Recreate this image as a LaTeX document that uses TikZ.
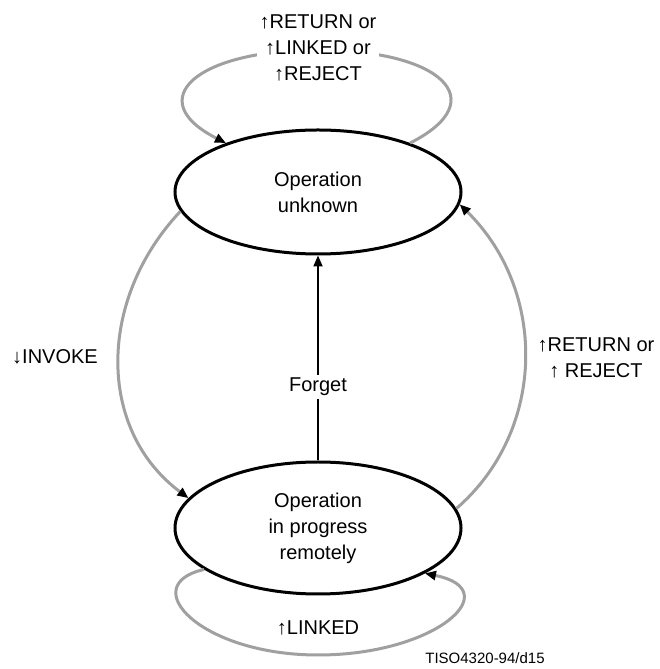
\documentclass[tikz,border=0pt]{standalone}
\usepackage{fontspec}
\setmainfont{Liberation Sans}
\usetikzlibrary{shapes.geometric,arrows.meta}
\definecolor{loopgray}{RGB}{160,160,160}
\begin{document}
\begin{tikzpicture}[
    x=1pt, y=1pt,
    every node/.style={
        align=center,
        font=\fontsize{20}{26}\selectfont
    },
    state/.style={draw, ellipse, line width=3pt, inner sep=0pt},
    trans/.style={draw=loopgray, line width=3pt, -{Triangle[color=black,length=11pt,width=9pt]}},
    note/.style={fill=white, inner sep=3pt}
]
\useasboundingbox (0,0) rectangle (659,669);
% states
\node[state, minimum width=286pt, minimum height=124pt] (unknown) at (318,477) {Operation\\unknown};
\node[state, minimum width=286pt, minimum height=132pt] (remote) at (318,141) {Operation\\in progress\\remotely};
% forget
\draw[line width=2pt, -{Triangle[length=11pt,width=9pt]}] (remote.north) -- (unknown.south)
    node[pos=0.36, note] (forget) {Forget};
% invoke
\draw[trans] (unknown.188) .. controls (97,369) and (97,239) .. (remote.167);
\node (invoke) at (55,312) {↓INVOKE};
% return or reject
\draw[trans] (remote.8) .. controls (547,239) and (547,379) .. (unknown.355);
\node (retrej) at (596,311) {↑RETURN or\\↑ REJECT};
% loop on unknown
\draw[trans] (unknown.28) .. controls (495,569) and (440,619) .. (318,619)
    .. controls (196,619) and (141,569) .. (unknown.152);
\node[note] (toplabel) at (318,621) {↑RETURN or\\↑LINKED or\\↑REJECT};
% loop on remote
\draw[trans] (remote.200) .. controls (135,84) and (200,14) .. (318,14)
    .. controls (436,14) and (508,79) .. (remote.337);
\node (linked) at (318,41) {↑LINKED};
\node[font=\fontsize{15}{17}\selectfont] (tag) at (485,11) {TISO4320-94/d15};
\end{tikzpicture}
\end{document}
